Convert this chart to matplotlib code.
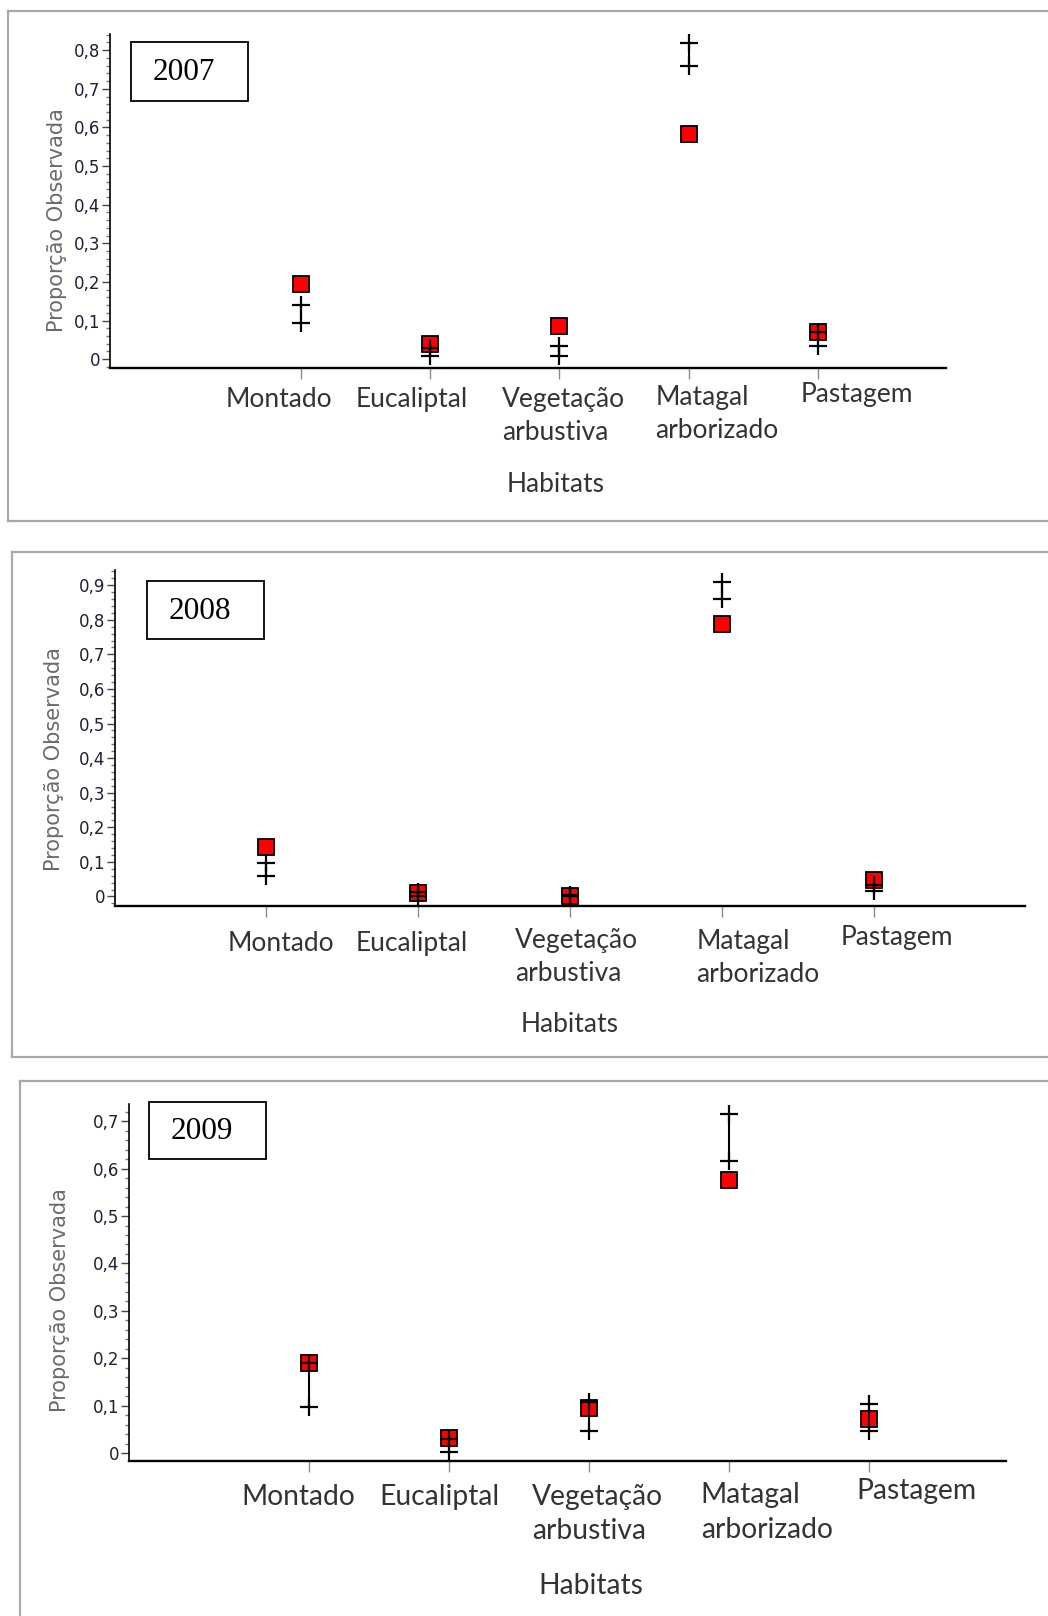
import matplotlib
matplotlib.use("Agg")
import matplotlib.pyplot as plt
from matplotlib.lines import Line2D
from matplotlib.patches import Rectangle
from matplotlib.ticker import MultipleLocator, FuncFormatter

# dados
habitats = ["Montado", "Eucaliptal", "Vegetação\narbustiva", "Matagal\narborizado", "Pastagem"]
anos = ["2007", "2008", "2009"]

obs_2007 = [0.195, 0.038, 0.085, 0.582, 0.069]
lo_2007 = [0.094, 0.009, 0.009, 0.759, 0.034]
hi_2007 = [0.140, 0.028, 0.034, 0.819, 0.069]

obs_2008 = [0.142, 0.009, 0.002, 0.787, 0.048]
lo_2008 = [0.059, 0.002, 0.000, 0.860, 0.015]
hi_2008 = [0.098, 0.012, 0.004, 0.909, 0.034]

obs_2009 = [0.189, 0.032, 0.094, 0.576, 0.072]
lo_2009 = [0.098, 0.003, 0.047, 0.616, 0.047]
hi_2009 = [0.190, 0.030, 0.108, 0.716, 0.103]

ymax_ticks = [0.8, 0.9, 0.7]

W, H = 1048, 1616
fig = plt.figure(figsize=(W / 100, H / 100), dpi=100)


def fx(x):
    return x / W


def fy(y):
    return 1 - y / H


def eixo(l, t, r, b):
    return fig.add_axes([fx(l), fy(b), fx(r) - fx(l), (b - t) / H])


def linha(x0, y0, x1, y1, **kw):
    fig.add_artist(Line2D([fx(x0), fx(x1)], [fy(y0), fy(y1)], transform=fig.transFigure, **kw))


# layout em pixeis: moldura, eixos, limites, caixa do ano, rotulos
paineis = [
    dict(frame=(8, 11, 1100, 521), ax=(110.3, 34, 946, 368), xlim=(-1.475, 4.99), ylim=(-0.023, 0.842),
         box=(131, 42.3, 247.7, 100.7), ylab=(56.7, 220), hab=(556, 484.3), fs=19,
         lab=[(225.7, 399.8), (355.5, 399.8), (501.9, 415.8), (655.4, 413.7), (800.7, 394.7)]),
    dict(frame=(12, 552, 1100, 1057), ax=(115.4, 570, 1025, 905.8), xlim=(-0.99, 4.99), ylim=(-0.027, 0.944),
         box=(147.4, 581.2, 263.8, 639), ylab=(53.6, 759.5), hab=(569.9, 1024.3), fs=19,
         lab=[(227.7, 944), (355.5, 944), (515.3, 957.4), (696.6, 957.9), (840.9, 937.8)]),
    dict(frame=(20, 1081, 1100, 1700), ax=(128.8, 1103.7, 1005.8, 1461.3), xlim=(-1.288, 4.98), ylim=(-0.0175, 0.737),
         box=(149.4, 1101.6, 265.9, 1159.3), ylab=(59.8, 1300), hab=(590.5, 1586), fs=20.3,
         lab=[(241.1, 1497.3), (379.2, 1497.3), (531.7, 1513.9), (700.7, 1512.3), (856.3, 1491.1)]),
]
series = [(obs_2007, lo_2007, hi_2007), (obs_2008, lo_2008, hi_2008), (obs_2009, lo_2009, hi_2009)]

CINZA_MOLD = "#a8a8a8"
fmt = FuncFormatter(lambda v, p: "0" if abs(v) < 1e-9 else f"{v:.1f}".replace(".", ","))

for P, ano, (obs, lo, hi), ytop in zip(paineis, anos, series, ymax_ticks):
    l, t, r, b = P["frame"]
    for seg in [(l, t, r, t), (l, t, l, b), (l, b, r, b)]:
        linha(*seg, color=CINZA_MOLD, lw=1.6)

    ax = eixo(*P["ax"])
    ax.set_xlim(*P["xlim"]); ax.set_ylim(*P["ylim"])
    xs = list(range(len(habitats)))
    ax.plot(xs, obs, ls="none", marker="s", ms=12, mfc="#ff0000", mec="black", mew=1.3, zorder=3)
    for x, a, c in zip(xs, lo, hi):
        ax.plot([x, x], [a, c], color="black", lw=1.5, zorder=4, solid_capstyle="butt")
        ax.plot([x, x], [a, c], ls="none", marker="+", ms=12.5, mew=1.6, color="black", zorder=4)

    for s in ["top", "right"]:
        ax.spines[s].set_visible(False)
    ax.spines["bottom"].set_linewidth(1.7)
    ax.spines["left"].set_linewidth(1.2)
    ax.set_xticks(xs); ax.set_xticklabels([])
    ax.tick_params(axis="x", length=8, width=1, color="#8c8c8c", direction="out")
    ax.set_yticks([i / 10 for i in range(int(round(ytop * 10)) + 1)])
    ax.yaxis.set_major_formatter(fmt)
    ax.yaxis.set_minor_locator(MultipleLocator(0.02))
    ax.tick_params(axis="y", which="major", length=6, width=1, color="#444444", pad=1,
                   labelsize=12, labelcolor="#1e1e3a")
    ax.tick_params(axis="y", which="minor", length=3, width=1, color="#777777")
    ax.patch.set_alpha(0)

    # caixa do ano
    bl, bt, br, bb = P["box"]
    fig.add_artist(Rectangle((fx(bl), fy(bb)), fx(br) - fx(bl), (bb - bt) / H, transform=fig.transFigure,
                             fill=False, edgecolor="black", lw=1.3))
    fig.text(fx((bl + br) / 2 - 6), fy((bt + bb) / 2 + 1), ano, family="Liberation Serif", fontsize=22.5,
             ha="center", va="center")

    fig.text(fx(P["ylab"][0]), fy(P["ylab"][1]), "Proporção Observada", rotation=90, ha="center", va="center",
             fontsize=15, color="#6a6a6a")
    for nome, (x, y) in zip(habitats, P["lab"]):
        fig.text(fx(x), fy(y), nome, family="Lato", fontsize=P["fs"], color="#333333",
                 ha="left", va="center", linespacing=1.4)
    fig.text(fx(P["hab"][0]), fy(P["hab"][1]), "Habitats", family="Lato", fontsize=P["fs"], color="#333333",
             ha="center", va="center")

fig.savefig("out.png", dpi=100)
